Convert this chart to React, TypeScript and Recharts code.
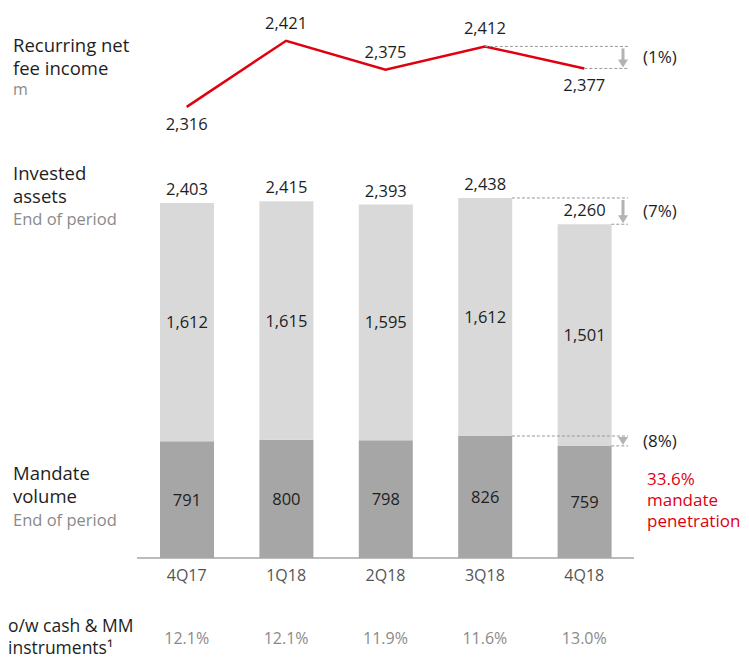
import React from "react"
import { ComposedChart, Bar, Line, XAxis, YAxis, LabelList } from "recharts"

const quarters = ["4Q17", "1Q18", "2Q18", "3Q18", "4Q18"]
const feeIncome = [2316, 2421, 2375, 2412, 2377]
const mandateVolume = [791, 800, 798, 826, 759]
const otherAssets = [1612, 1615, 1595, 1612, 1501]
const investedAssets = [2403, 2415, 2393, 2438, 2260]
const cashShare = ["12.1%", "12.1%", "11.9%", "11.6%", "13.0%"]

const feeChange = "(1%)"
const assetsChange = "(7%)"
const mandateChange = "(8%)"
const penetration = "33.6%"

const W = 749
const H = 660
const PLOT_L = 137
const PLOT_R = 634
const PLOT_T = 20
const PLOT_B = 558
const BAR_MAX = 3643
const LINE_MIN = 1599
const LINE_MAX = 2454

const FONT = "'Open Sans', 'Noto Sans', sans-serif"
const RED = "#e0000f"
const DARK = "#1e1e1e"
const GREY = "#8a8a8a"
const ARROW = "#b3b3b3"

const data = quarters.map((q, i) => ({
  q,
  fee: feeIncome[i],
  mandate: mandateVolume[i],
  other: otherAssets[i],
  total: investedAssets[i],
}))

// same mapping as the chart, for the annotations drawn on top
const plotH = PLOT_B - PLOT_T
const band = (PLOT_R - PLOT_L) / quarters.length
const xCenter = (i: number) => PLOT_L + (i + 0.5) * band
const yBar = (v: number) => PLOT_B - (v / BAR_MAX) * plotH
const yLine = (v: number) => PLOT_B - ((v - LINE_MIN) / (LINE_MAX - LINE_MIN)) * plotH
const BAR_W = 54

const labelsBelow = ["4Q17", "4Q18"]

const LineLabel = (props: any) => {
  const { x, y, value, index } = props
  const below = labelsBelow.includes(quarters[index])
  return (
    <text x={x} y={below ? y + 23 : y - 12} textAnchor="middle" fontSize={16.5} fill={DARK} fontFamily={FONT}>
      {value.toLocaleString("en-US")}
    </text>
  )
}

const CenterLabel = (props: any) => {
  const { x, y, width, height, value } = props
  return (
    <text x={x + width / 2} y={y + height / 2 + 6} textAnchor="middle" fontSize={16.5} fill={DARK} fontFamily={FONT}>
      {value.toLocaleString("en-US")}
    </text>
  )
}

const TotalLabel = (props: any) => {
  const { x, y, width, index } = props
  return (
    <text x={x + width / 2} y={y - 8} textAnchor="middle" fontSize={16.5} fill={DARK} fontFamily={FONT}>
      {investedAssets[index].toLocaleString("en-US")}
    </text>
  )
}

function Change({ yTop, yBottom, xFrom, xFrom2, label, shaft }: any) {
  const xEnd = 628
  const ax = 623
  return (
    <g>
      <line x1={xFrom} y1={yTop} x2={xEnd} y2={yTop} stroke="#999" strokeDasharray="3 2" strokeWidth={1} />
      <line x1={xFrom2} y1={yBottom} x2={xEnd} y2={yBottom} stroke="#999" strokeDasharray="3 2" strokeWidth={1} />
      {shaft && <line x1={ax} y1={yTop + 2} x2={ax} y2={yBottom - 8} stroke={ARROW} strokeWidth={3} />}
      <polygon points={`${ax - 5},${yBottom - 9} ${ax + 5},${yBottom - 9} ${ax},${yBottom - 1}`} fill={ARROW} />
      <text x={643} y={(yTop + yBottom) / 2 + 6} fontSize={17} fill={DARK} fontFamily={FONT}>
        {label}
      </text>
    </g>
  )
}

export default function App() {
  const last = quarters.length - 1
  const prev = quarters.length - 2
  return (
    <div style={{ position: "fixed", left: 0, top: 0, width: W, height: H, background: "#fff" }}>
      <ComposedChart
        width={W}
        height={H}
        data={data}
        margin={{ top: PLOT_T, right: W - PLOT_R, left: PLOT_L, bottom: H - PLOT_B - 100 }}
      >
        <XAxis
          xAxisId="main"
          dataKey="q"
          height={30}
          tickSize={0}
          tickMargin={12}
          tickLine={false}
          axisLine={{ stroke: "#a6a6a6", strokeWidth: 1.5 }}
          tick={{ fontSize: 16, fill: "#555", fontFamily: FONT }}
        />
        <XAxis
          xAxisId="pct"
          dataKey="q"
          height={70}
          tickSize={0}
          tickMargin={45}
          tickLine={false}
          axisLine={false}
          tickFormatter={(_v: string, i: number) => cashShare[i]}
          tick={{ fontSize: 16, fill: GREY, fontFamily: FONT }}
        />
        <YAxis yAxisId="bar" hide domain={[0, BAR_MAX]} allowDataOverflow />
        <YAxis yAxisId="line" hide domain={[LINE_MIN, LINE_MAX]} allowDataOverflow />
        <Bar dataKey="mandate" xAxisId="main" yAxisId="bar" stackId="a" fill="#a6a6a6" barSize={BAR_W} isAnimationActive={false}>
          <LabelList dataKey="mandate" content={CenterLabel} />
        </Bar>
        <Bar dataKey="other" xAxisId="main" yAxisId="bar" stackId="a" fill="#d9d9d9" barSize={BAR_W} isAnimationActive={false}>
          <LabelList dataKey="other" content={CenterLabel} />
          <LabelList dataKey="total" content={TotalLabel} />
        </Bar>
        <Line
          dataKey="fee"
          xAxisId="main"
          yAxisId="line"
          type="linear"
          stroke={RED}
          strokeWidth={2.5}
          dot={false}
          isAnimationActive={false}
        >
          <LabelList dataKey="fee" content={LineLabel} />
        </Line>
      </ComposedChart>

      <svg width={W} height={H} style={{ position: "absolute", left: 0, top: 0, pointerEvents: "none" }}>
        <g fontFamily={FONT}>
          <text x={13} y={52} fontSize={18.5} fill={DARK}>Recurring net</text>
          <text x={13} y={75} fontSize={18.5} fill={DARK}>fee income</text>
          <text x={13} y={95} fontSize={16} fill={GREY}>m</text>

          <text x={13} y={180} fontSize={18.5} fill={DARK}>Invested</text>
          <text x={13} y={203} fontSize={18.5} fill={DARK}>assets</text>
          <text x={13} y={225} fontSize={16.5} fill={GREY}>End of period</text>

          <text x={13} y={480} fontSize={18.5} fill={DARK}>Mandate</text>
          <text x={13} y={503} fontSize={18.5} fill={DARK}>volume</text>
          <text x={13} y={526} fontSize={16.5} fill={GREY}>End of period</text>

          <text x={8} y={632} fontSize={17.5} fill={DARK}>o/w cash &amp; MM</text>
          <text x={8} y={654} fontSize={17.5} fill={DARK}>instruments¹</text>

          <text x={647} y={485} fontSize={17} fill={RED}>{penetration}</text>
          <text x={647} y={506} fontSize={17} fill={RED}>mandate</text>
          <text x={647} y={527} fontSize={17} fill={RED}>penetration</text>
        </g>

        <Change
          yTop={yLine(feeIncome[prev])}
          yBottom={yLine(feeIncome[last])}
          xFrom={xCenter(prev)}
          xFrom2={xCenter(last)}
          label={feeChange}
          shaft
        />
        <Change
          yTop={yBar(investedAssets[prev])}
          yBottom={yBar(investedAssets[last])}
          xFrom={xCenter(prev) + BAR_W / 2}
          xFrom2={xCenter(last) + BAR_W / 2}
          label={assetsChange}
          shaft
        />
        <Change
          yTop={yBar(mandateVolume[prev])}
          yBottom={yBar(mandateVolume[last])}
          xFrom={xCenter(prev) + BAR_W / 2}
          xFrom2={xCenter(last) + BAR_W / 2}
          label={mandateChange}
          shaft={false}
        />
      </svg>
    </div>
  )
}
